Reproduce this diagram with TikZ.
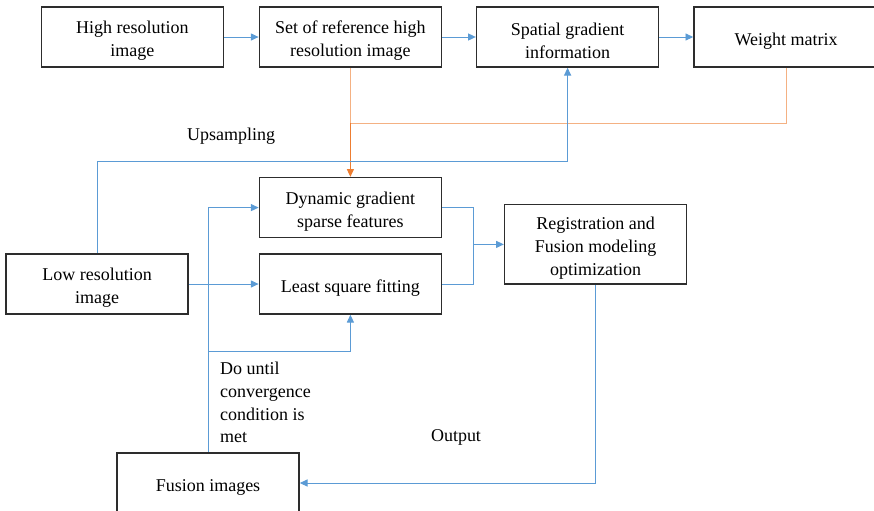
\documentclass[tikz,border=0pt]{standalone}
\usepackage{fontspec}
\setmainfont{Liberation Serif}
\usetikzlibrary{positioning,arrows.meta}

\definecolor{lineblue}{RGB}{91,155,213}
\definecolor{lineorange}{RGB}{244,177,131}
\definecolor{darkorange}{RGB}{237,125,49}
\definecolor{boxgray}{RGB}{45,45,45}

% extra room above the first text line of a box
\newcommand{\boxstrut}{\rule{0pt}{14.5pt}}

\begin{document}
\begin{tikzpicture}[
    box/.style={draw=boxgray, line width=1.1pt, minimum height=1.5cm, minimum width=4.55cm, align=center, font=\fontsize{12.8}{16.3}\selectfont},
    lbl/.style={font=\fontsize{12.8}{16.3}\selectfont, align=left},
    bline/.style={lineblue, line width=0.7pt},
    arr/.style={bline, -{Triangle[width=5pt,length=5.5pt]}},
    oline/.style={lineorange, line width=0.7pt},
    oarr/.style={darkorange, line width=0.7pt, -{Triangle[width=5pt,length=5.5pt]}}
]
    \useasboundingbox (0,0) rectangle (21.85,-12.75);

    % --- top row ---
    \node[box] (hri) at (3.31,-0.925) {\boxstrut High resolution\\image};
    \node[box] (setref) at (8.76,-0.925) {\boxstrut Set of reference high\\resolution image};
    \node[box] (spatial) at (14.19,-0.925) {\boxstrut Spatial gradient\\information};
    \node[box, minimum width=4.6cm] (weight) at (19.65,-0.925) {\boxstrut Weight matrix};
    \draw[arr] (hri) -- (setref);
    \draw[arr] (setref) -- (spatial);
    \draw[arr] (spatial) -- (weight);

    % --- middle part ---
    \node[box] (dynamic) at (8.76,-5.19) {\boxstrut Dynamic gradient\\sparse features};
    \node[box] (lsq) at (8.76,-7.1) {\boxstrut Least square fitting};
    \node[box] (lowres) at (2.43,-7.1) {\boxstrut Low resolution\\image};
    \node[box, minimum height=1.93cm] (reg) at (14.89,-6.11) {\boxstrut Registration and\\Fusion modeling\\optimization};
    \node[box] (fusion) at (5.2,-12.075) {\boxstrut Fusion images};

    % orange feedback from reference set and weight matrix
    \coordinate (oj) at (setref.south |- 0,-3.075);
    \draw[oline] (setref.south) -- (oj);
    \draw[oline] (weight.south) |- (oj);
    \draw[oarr] (oj) -- (dynamic.north);

    % upsampling path
    \coordinate (uj) at (spatial.south |- 0,-4.025);
    \draw[arr] (lowres.north) |- (uj) -- (spatial.south);
    \node[lbl] (up) at (5.78,-3.4) {Upsampling};
    \draw[arr] (lowres) -- (lsq);

    % iteration loop
    \draw[arr] (fusion.north) |- (dynamic.west);
    \coordinate (lj) at (fusion.north |- 0,-8.775);
    \draw[arr] (lj) -| (lsq.south);
    \node[lbl, anchor=west] (until) at (5.38,-10.06) {Do until\\convergence\\condition is\\met};

    % merge into registration
    \coordinate (mj) at (11.83,-6.11);
    \draw[bline] (dynamic.east) -| (mj);
    \draw[bline] (lsq.east) -| (mj);
    \draw[arr] (mj) -- (reg.west);

    % output
    \draw[arr] (reg.south) |- (fusion.east);
    \node[lbl] (out) at (11.4,-10.925) {Output};
\end{tikzpicture}
\end{document}
